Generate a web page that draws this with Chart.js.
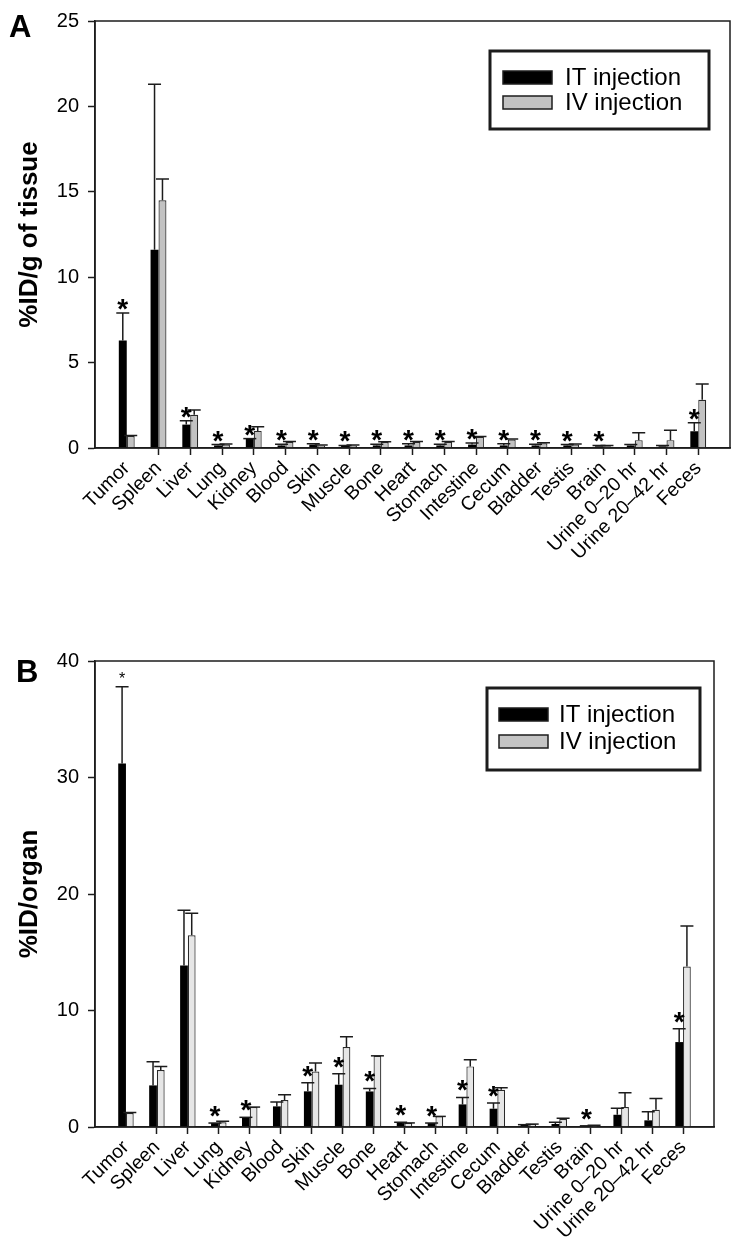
<!DOCTYPE html>
<html>
<head>
<meta charset="utf-8">
<title>Biodistribution: IT vs IV injection</title>
<script src="https://cdn.jsdelivr.net/npm/chart.js"></script>
<style>
    body, html {
        margin: 0;
        padding: 0;
        background: #fff;
    }
    .panel {
        position: absolute;
        left: 0;
        width: 741px;
    }
    #panelA { top: 0; height: 620px; }
    #panelB { top: 620px; height: 636px; }
</style>
</head>
<body>

<div class="panel" id="panelA"><canvas id="chartA" width="741" height="620"></canvas></div>
<div class="panel" id="panelB"><canvas id="chartB" width="741" height="636"></canvas></div>

<script>
    // categories
    const organs = ['Tumor', 'Spleen', 'Liver', 'Lung', 'Kidney', 'Blood', 'Skin', 'Muscle', 'Bone', 'Heart',
        'Stomach', 'Intestine', 'Cecum', 'Bladder', 'Testis', 'Brain', 'Urine 0–20 hr', 'Urine 20–42 hr', 'Feces'];
    const seriesNames = ['IT injection', 'IV injection'];

    // panel A: %ID/g of tissue (mean, upper SD)
    const tissueIT    = [6.3, 11.6, 1.37, 0.15, 0.55, 0.15, 0.2, 0.12, 0.15, 0.15, 0.15, 0.2, 0.15, 0.15, 0.15, 0.1, 0.15, 0.1, 0.98];
    const tissueITsd  = [1.6, 9.7, 0.23, 0.05, 0, 0.07, 0.05, 0.03, 0.07, 0.1, 0.07, 0.1, 0.1, 0.07, 0.05, 0.05, 0.05, 0.05, 0.5];
    const tissueIV    = [0.7, 14.5, 1.94, 0.2, 1.0, 0.35, 0.15, 0.15, 0.35, 0.35, 0.35, 0.65, 0.5, 0.28, 0.2, 0.1, 0.46, 0.46, 2.82];
    const tissueIVsd  = [0.03, 1.25, 0.28, 0.03, 0.24, 0.03, 0.03, 0.03, 0.02, 0.03, 0.03, 0.03, 0.03, 0.03, 0.03, 0.05, 0.44, 0.58, 0.93];
    const tissueSig   = [1, 0, 1, 1, 1, 1, 1, 1, 1, 1, 1, 1, 1, 1, 1, 1, 0, 0, 1];
    const tissueTicks = [0, 5, 10, 15, 20, 25];

    // panel B: %ID/organ
    const organIT     = [31.2, 3.57, 13.86, 0.34, 0.83, 1.77, 3.06, 3.63, 3.05, 0.35, 0.34, 1.94, 1.57, 0.2, 0.26, 0.1, 1.05, 0.57, 7.29];
    const organITsd   = [6.6, 2.03, 4.74, 0, 0, 0.37, 0.74, 0.94, 0.26, 0.05, 0, 0.6, 0.49, 0, 0.14, 0, 0.55, 0.74, 1.14];
    const organIV     = [1.2, 4.89, 16.46, 0.4, 1.71, 2.31, 4.77, 6.86, 6.11, 0.35, 0.91, 5.2, 3.2, 0.25, 0.69, 0.15, 1.71, 1.48, 13.77];
    const organIVsd   = [0.05, 0.31, 1.89, 0.1, 0, 0.46, 0.73, 0.88, 0, 0, 0, 0.57, 0.17, 0, 0.06, 0, 1.23, 0.97, 3.49];
    const organSig    = [1, 0, 0, 1, 1, 0, 1, 1, 1, 1, 1, 1, 1, 0, 0, 1, 0, 0, 1];
    const organTicks  = [0, 10, 20, 30, 40];

    const FONT = "'Liberation Sans', Arial, Helvetica, sans-serif";
    const INK = '#1c1c1c';

    // one empty slot at each end so the groups sit a full step in from the frame
    const pad = arr => [null, ...arr, null];

    const decor = {
        id: 'decor',
        afterDatasetsDraw(chart, args, o) {
            const ctx = chart.ctx;
            const area = chart.chartArea;
            const y = chart.scales.y;
            ctx.save();

            // upper error bars
            ctx.strokeStyle = INK;
            ctx.lineWidth = 1.5;
            o.errors.forEach((errs, di) => {
                const vals = chart.data.datasets[di].data;
                chart.getDatasetMeta(di).data.forEach((bar, i) => {
                    const v = vals[i], e = errs[i];
                    if (v == null || e == null) return;
                    const base = y.getPixelForValue(v);
                    const top = y.getPixelForValue(v + e);
                    ctx.beginPath();
                    ctx.moveTo(bar.x, base);
                    ctx.lineTo(bar.x, top);
                    ctx.moveTo(bar.x - 6.5, top);
                    ctx.lineTo(bar.x + 6.5, top);
                    ctx.stroke();
                });
            });

            // significance stars over the IT bars
            ctx.fillStyle = '#000';
            ctx.textAlign = 'center';
            ctx.textBaseline = 'alphabetic';
            const itVals = chart.data.datasets[0].data;
            chart.getDatasetMeta(0).data.forEach((bar, i) => {
                if (!o.stars[i]) return;
                const cap = y.getPixelForValue(itVals[i] + (o.errors[0][i] || 0));
                const small = o.smallStar.includes(chart.data.labels[i]);
                ctx.font = small ? '16px ' + FONT : 'bold 28px ' + FONT;
                ctx.fillText('*', bar.x, cap + (small ? -3 : o.starShift));
            });

            // frame
            ctx.strokeStyle = INK;
            ctx.lineWidth = 1.5;
            ctx.strokeRect(area.left, area.top, area.right - area.left, area.bottom - area.top);

            // legend box inside the plot
            const L = o.legend;
            const lx = area.right - L.fromRight, ly = area.top + L.fromTop;
            ctx.lineWidth = 3;
            ctx.strokeRect(lx, ly, L.w, L.h);
            ctx.lineWidth = 1.5;
            seriesNames.forEach((name, k) => {
                const sy = ly + L.rows[k];
                ctx.fillStyle = L.fills[k];
                ctx.fillRect(lx + L.swX, sy, 49, 13);
                ctx.strokeRect(lx + L.swX, sy, 49, 13);
                ctx.fillStyle = '#000';
                ctx.font = '24px ' + FONT;
                ctx.textAlign = 'left';
                ctx.fillText(name, lx + L.textX, sy + 14);
            });

            // panel letter
            ctx.font = 'bold 31px ' + FONT;
            ctx.fillStyle = '#000';
            ctx.textAlign = 'left';
            ctx.fillText(o.letter, o.letterX, o.letterY);
            ctx.restore();
        }
    };

    function buildPanel(id, p) {
        const labels = pad(organs);
        const n = labels.length;
        new Chart(document.getElementById(id), {
            type: 'bar',
            data: {
                labels: labels,
                datasets: [
                    { label: seriesNames[0], data: pad(p.it), backgroundColor: '#000', borderColor: '#000', borderWidth: 0 },
                    { label: seriesNames[1], data: pad(p.iv), backgroundColor: p.ivFill, borderColor: '#2a2a2a', borderWidth: 1.2 }
                ]
            },
            options: {
                responsive: false,
                animation: false,
                datasets: { bar: { categoryPercentage: 0.5, barPercentage: 1.0 } },
                layout: { padding: p.padding },
                plugins: {
                    legend: { display: false },
                    tooltip: { enabled: false },
                    decor: {
                        errors: [pad(p.itSd), pad(p.ivSd)],
                        stars: pad(p.sig),
                        smallStar: p.smallStar,
                        starShift: p.starShift,
                        legend: p.legend,
                        letter: p.letter, letterX: p.letterX, letterY: p.letterY
                    }
                },
                scales: {
                    x: {
                        offset: false,
                        afterFit: s => { s.height = p.xHeight; },
                        border: { color: INK, width: 1.5 },
                        grid: {
                            offset: false,
                            drawOnChartArea: false,
                            tickLength: 7,
                            tickWidth: 1.5,
                            tickColor: c => (c.index === 0 || c.index === n - 1) ? 'rgba(0,0,0,0)' : INK
                        },
                        ticks: {
                            autoSkip: false,
                            minRotation: 45,
                            maxRotation: 45,
                            padding: 2,
                            color: '#000',
                            font: { family: FONT, size: 19.5 }
                        }
                    },
                    y: {
                        min: p.ticks[0],
                        max: p.ticks[p.ticks.length - 1],
                        afterFit: s => { s.width = 95; },
                        border: { color: INK, width: 1.5 },
                        grid: { drawOnChartArea: false, tickLength: 7, tickWidth: 1.5, tickColor: INK },
                        ticks: {
                            stepSize: p.ticks[1] - p.ticks[0],
                            padding: 9,
                            color: '#000',
                            font: { family: FONT, size: 20 }
                        },
                        title: {
                            display: true,
                            text: p.yTitle,
                            color: '#000',
                            padding: { top: 17, bottom: 0 },
                            font: { family: FONT, size: 26, weight: 'bold', lineHeight: 1 }
                        }
                    }
                }
            },
            plugins: [decor]
        });
    }

    buildPanel('chartA', {
        it: tissueIT, itSd: tissueITsd, iv: tissueIV, ivSd: tissueIVsd, sig: tissueSig,
        ticks: tissueTicks, yTitle: '%ID/g of tissue', ivFill: '#c2c2c2',
        padding: { left: 0, top: 17, right: 11, bottom: 0 }, xHeight: 172,
        smallStar: [], starShift: 5,
        legend: { fromRight: 240, fromTop: 30, w: 219, h: 78, swX: 13, textX: 75, rows: [20, 45], fills: ['#000', '#c2c2c2'] },
        letter: 'A', letterX: 9, letterY: 37
    });

    buildPanel('chartB', {
        it: organIT, itSd: organITsd, iv: organIV, ivSd: organIVsd, sig: organSig,
        ticks: organTicks, yTitle: '%ID/organ', ivFill: '#e6e6e6',
        padding: { left: 0, top: 41, right: 27, bottom: 0 }, xHeight: 129,
        smallStar: ['Tumor'], starShift: 2,
        legend: { fromRight: 227, fromTop: 27, w: 213, h: 82, swX: 12, textX: 72, rows: [20, 47], fills: ['#000', '#c4c4c4'] },
        letter: 'B', letterX: 16, letterY: 62
    });
</script>

</body>
</html>
